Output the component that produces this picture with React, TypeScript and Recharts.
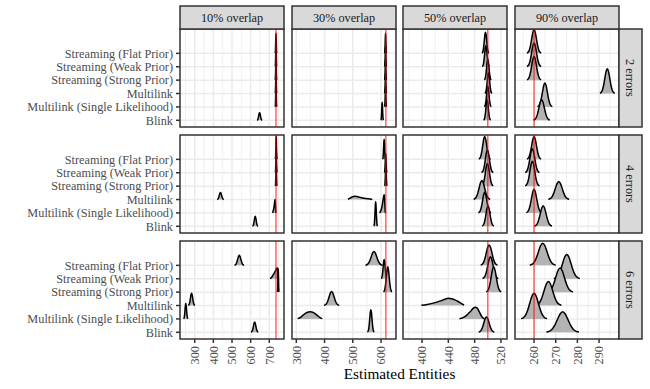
import React from 'react';
import { ComposedChart, Area, XAxis, YAxis, CartesianGrid, ReferenceLine } from 'recharts';

// ---------- data ----------
const methods = [
  'Streaming (Flat Prior)',
  'Streaming (Weak Prior)',
  'Streaming (Strong Prior)',
  'Multilink',
  'Multilink (Single Likelihood)',
  'Blink',
];
const overlaps = ['10% overlap', '30% overlap', '50% overlap', '90% overlap'];
const errorLevels = ['2 errors', '4 errors', '6 errors'];
const trueEntities = [736, 617, 500, 260];
const xTicks = [
  [300, 400, 500, 600, 700],
  [300, 400, 500, 600],
  [400, 440, 480, 520],
  [260, 270, 280, 290],
];
const xMinorTicks = [
  [250, 350, 450, 550, 650, 750],
  [350, 450, 550, 650],
  [380, 420, 460, 500],
  [255, 265, 275, 285, 295],
];
const xDomains = [
  [220.9, 779],
  [284.8, 653],
  [371.1, 529.2],
  [251.2, 299.2],
];

// normalised bell-shaped ridge profile: [offset in spreads, relative height]
const bellProfile = [
  [-3, 0.011], [-2.5, 0.044], [-2, 0.135], [-1.5, 0.325], [-1, 0.607], [-0.5, 0.882],
  [0, 1], [0.5, 0.882], [1, 0.607], [1.5, 0.325], [2, 0.135], [2.5, 0.044], [3, 0.011],
];

// hand-read irregular ridges: [estimate, height]
const weakPrior6Err10 = [[704, 0], [712, 0.1], [720, 0.27], [728, 0.46], [735, 0.65], [740, 0.8], [743, 0.82], [745, 0.55], [747, 0.15], [749, 0]];
const singleLik4Err10 = [[718, 0], [722, 0.2], [726, 0.5], [729, 0.85], [731, 1.0], [733, 0.6], [735, 0.1], [737, 0]];
const multilink4Err30 = [[483, 0.02], [490, 0.1], [496, 0.17], [502, 0.22], [508, 0.24], [515, 0.22], [525, 0.17], [540, 0.1], [555, 0.05], [569, 0.01]];
const singleLik4Err30 = [[595, 0], [600, 0.2], [604, 0.55], [607, 0.95], [610, 1.3], [611.5, 1.36], [613, 0.9], [614.5, 0.2], [616, 0]];
const singleLik6Err30 = [[305, 0.02], [315, 0.12], [325, 0.3], [335, 0.45], [343, 0.52], [350, 0.53], [358, 0.5], [366, 0.4], [375, 0.25], [384, 0.1], [392, 0.02]];
const multilink6Err50 = [[399, 0.02], [408, 0.08], [417, 0.18], [427, 0.33], [434, 0.45], [440, 0.54], [445, 0.5], [450, 0.42], [455, 0.3], [460, 0.14], [464, 0.03]];
const singleLik6Err50 = [[457, 0.02], [463, 0.12], [469, 0.32], [474, 0.58], [478, 0.8], [481, 0.88], [484, 0.8], [487, 0.55], [490, 0.25], [493, 0.06], [495, 0.01]];

// per overlap column, per method: [centre, spread, height] or a hand-read point list
const ridges2Errors = [
  [[736, 1.5, 1.5], [736, 1.5, 1.55], [736, 1.5, 1.55], [736, 1.5, 1.55], [736, 1.5, 1.55], [648, 4.5, 0.57]],
  [[616, 1.2, 1.5], [616, 1.2, 1.55], [616, 1.2, 1.55], [616, 1.2, 1.55], [616, 1.2, 1.55], [604, 1.5, 1.35]],
  [[496.5, 1.8, 1.58], [497, 1.8, 1.57], [500, 1.8, 1.56], [501, 1.8, 1.55], [500, 1.8, 1.54], [499, 1.8, 1.53]],
  [[260, 1.1, 1.78], [260, 1.1, 1.77], [260, 1.1, 1.76], [293.8, 1.15, 1.85], [265, 1.15, 1.79], [263.5, 1.25, 1.53]],
];
const ridges4Errors = [
  [[737, 1.5, 1.75], [737, 1.5, 1.75], [737, 1.5, 1.75], [438, 6, 0.52], singleLik4Err10, [624.6, 5, 0.75]],
  [[611, 1.8, 1.5], [616.5, 1.5, 1.45], [617, 1.5, 1.5], multilink4Err30, singleLik4Err30, [581, 2.2, 1.83]],
  [[495.3, 3.0, 1.71], [499.4, 3.0, 1.7], [499.4, 3.0, 1.7], [491, 4.2, 1.42], [495.3, 3.2, 1.54], [500.3, 3.0, 1.53]],
  [[260, 1.1, 1.7], [259.2, 1.1, 1.8], [259.2, 1.1, 1.86], [271.4, 1.6, 1.35], [260, 1.2, 1.77], [264.2, 1.35, 1.53]],
];
const ridges6Errors = [
  [[539, 8.5, 0.75], weakPrior6Err10, [748, 1.5, 1.75], [283, 6, 0.92], [252, 4, 1.16], [621.5, 6.5, 0.77]],
  [[575, 10, 1.03], [611, 3.5, 1.44], [623.8, 5, 1.89], [425, 9, 1.05], singleLik6Err30, [564, 4, 1.68]],
  [[502, 4.3, 1.53], [504, 4, 1.65], [509, 3.8, 1.89], multilink6Err50, singleLik6Err50, [498, 4, 1.15]],
  [[264, 2, 1.66], [275.1, 2, 1.82], [272, 2, 1.81], [266.6, 2, 1.8], [260, 2, 1.92], [273.2, 2.5, 1.53]],
];
const ridgeTables = [ridges2Errors, ridges4Errors, ridges6Errors];

// ---------- layout ----------
const FONT = '"Liberation Serif", "Times New Roman", Times, serif';
const PANEL_LEFT = [180, 292, 403, 515];
const PANEL_TOP = [29, 135, 241];
const PANEL_W = 104;
const PANEL_H = 98;
const STRIP_H = 23;
const STRIP_W = 23;
const Y_AXIS_W = 180;
const X_AXIS_H = 40;
const PAD = 10;
const Y_DOMAIN = [0.5, 7.82];

function ridgePoints(r: any, base: number) {
  if (Array.isArray(r[0])) {
    return r.map(([x, h]: number[]) => ({ x, y: base + h }));
  }
  const [c, s, h] = r;
  return bellProfile.map(([u, v]) => ({ x: c + s * u, y: base + h * v }));
}

const XTick = (props: any) => {
  const { x, y, payload } = props;
  return (
    <text
      x={x}
      y={y}
      transform={`rotate(-90 ${x} ${y})`}
      textAnchor="end"
      dy="0.35em"
      fill="#4D4D4D"
      fontSize={12.25}
      fontFamily={FONT}
    >
      {payload.value}
    </text>
  );
};

const YTick = (props: any) => {
  const { x, y, payload } = props;
  return (
    <text x={x} y={y} textAnchor="end" dy="0.35em" fill="#4D4D4D" fontSize={12.25} fontFamily={FONT}>
      {methods[6 - payload.value]}
    </text>
  );
};

function Panel({ row, col }: { row: number; col: number }) {
  const ridges = ridgeTables[row][col];
  const showY = col === 0;
  const showX = row === 2;
  const width = PANEL_W + 2 * PAD + (showY ? Y_AXIS_W : 0);
  const height = PANEL_H + (showX ? X_AXIS_H : 0);
  const left = PANEL_LEFT[col] - PAD - (showY ? Y_AXIS_W : 0);
  return (
    <div style={{ position: 'absolute', left, top: PANEL_TOP[row] }}>
      <ComposedChart width={width} height={height} margin={{ top: 0, right: PAD, bottom: 0, left: PAD }}>
        <CartesianGrid stroke="#EBEBEB" strokeWidth={0.75} horizontal={false} verticalValues={xMinorTicks[col]} />
        <CartesianGrid stroke="#EBEBEB" strokeWidth={1.5} verticalValues={xTicks[col]} horizontalValues={[1, 2, 3, 4, 5, 6]} />
        <XAxis
          type="number"
          dataKey="x"
          domain={xDomains[col]}
          allowDataOverflow
          ticks={xTicks[col]}
          interval={0}
          hide={!showX}
          height={X_AXIS_H}
          tickSize={4}
          tickMargin={3}
          axisLine={false}
          tickLine={{ stroke: '#333333', strokeWidth: 1.5 }}
          tick={<XTick />}
        />
        <YAxis
          type="number"
          domain={Y_DOMAIN}
          allowDataOverflow
          ticks={[6, 5, 4, 3, 2, 1]}
          interval={0}
          hide={!showY}
          width={Y_AXIS_W}
          tickSize={4}
          tickMargin={3}
          axisLine={false}
          tickLine={{ stroke: '#333333', strokeWidth: 1.5 }}
          tick={<YTick />}
        />
        {ridges.map((r: any, i: number) => (
          <Area
            key={methods[i]}
            data={ridgePoints(r, 6 - i)}
            dataKey="y"
            baseValue={6 - i}
            type="monotone"
            stroke="#000000"
            strokeWidth={1.5}
            fill="#B3B3B3"
            fillOpacity={1}
            dot={false}
            activeDot={false}
            isAnimationActive={false}
          />
        ))}
        <ReferenceLine x={trueEntities[col]} stroke="#FF0000" strokeOpacity={0.6} strokeWidth={1.5} />
      </ComposedChart>
    </div>
  );
}

export default function App() {
  const panels: any[] = [];
  errorLevels.forEach((_, r) => overlaps.forEach((__, c) => panels.push(<Panel key={`${r}-${c}`} row={r} col={c} />)));
  const rightX = PANEL_LEFT[3] + PANEL_W;
  return (
    <div style={{ position: 'absolute', left: 0, top: 0, width: 650, height: 389, background: '#ffffff', fontFamily: FONT }}>
      {panels}
      <svg width={650} height={389} style={{ position: 'absolute', left: 0, top: 0, pointerEvents: 'none' }}>
        {errorLevels.map((_, r) =>
          overlaps.map((__, c) => (
            <rect key={`b${r}-${c}`} x={PANEL_LEFT[c]} y={PANEL_TOP[r]} width={PANEL_W} height={PANEL_H} fill="none" stroke="#333333" strokeWidth={1.5} />
          ))
        )}
        {overlaps.map((o, c) => (
          <g key={o}>
            <rect x={PANEL_LEFT[c]} y={PANEL_TOP[0] - STRIP_H} width={PANEL_W} height={STRIP_H} fill="#D9D9D9" stroke="#333333" strokeWidth={1.5} />
            <text x={PANEL_LEFT[c] + PANEL_W / 2} y={PANEL_TOP[0] - STRIP_H / 2} dy="0.35em" textAnchor="middle" fontSize={12.25} fill="#1A1A1A" fontFamily={FONT}>{o}</text>
          </g>
        ))}
        {errorLevels.map((e, r) => {
          const cx = rightX + STRIP_W / 2;
          const cy = PANEL_TOP[r] + PANEL_H / 2;
          return (
            <g key={e}>
              <rect x={rightX} y={PANEL_TOP[r]} width={STRIP_W} height={PANEL_H} fill="#D9D9D9" stroke="#333333" strokeWidth={1.5} />
              <text x={cx} y={cy} dy="0.35em" textAnchor="middle" transform={`rotate(90 ${cx} ${cy})`} fontSize={12.25} fill="#1A1A1A" fontFamily={FONT}>{e}</text>
            </g>
          );
        })}
        <text x={(PANEL_LEFT[0] + rightX) / 2} y={378.5} textAnchor="middle" fontSize={15.3} fill="#000000" fontFamily={FONT}>Estimated Entities</text>
      </svg>
    </div>
  );
}
